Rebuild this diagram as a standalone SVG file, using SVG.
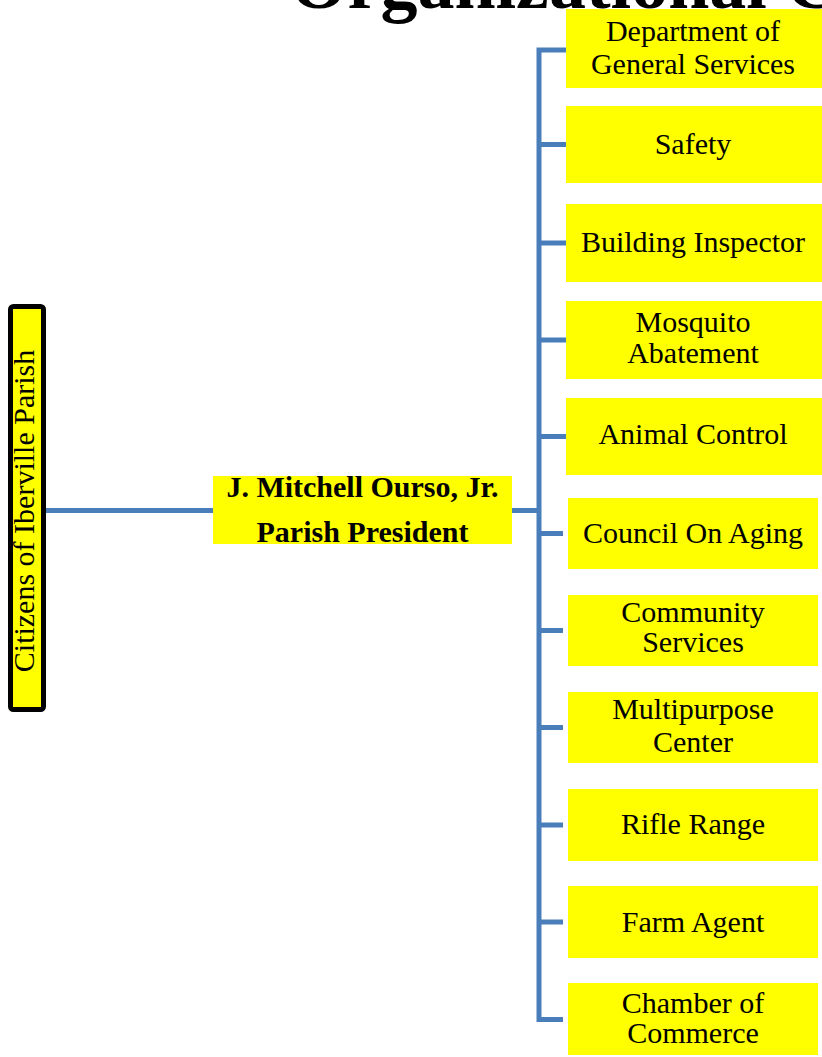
<svg xmlns="http://www.w3.org/2000/svg" width="822" height="1057" viewBox="0 0 822 1057">
<style>
.box{fill:#FFFF00;}
.t{font-family:"Liberation Serif","Times New Roman",serif;font-size:30px;fill:#000;text-anchor:middle;}
.b{font-weight:bold;}
.conn{stroke:#4A7EBB;stroke-width:5;fill:none;}
</style>
<rect width="822" height="1057" fill="#fff"/>
<g id="connectors">
<path class="conn" d="M46,510.5 H213 M512,510.5 H539"/>
<path class="conn" d="M566,50 H539 V1019.5 H563"/>
<path class="conn" d="M539,144.5 H566 M539,243 H566 M539,340 H566 M539,436.5 H566 M539,533.5 H563 M539,630.5 H563 M539,727.5 H563 M539,825 H563 M539,922 H563"/>
</g>
<g id="citizens">
<rect x="10.5" y="306.5" width="33" height="403" rx="3" fill="#FFFF00" stroke="#000" stroke-width="5"/>
<text class="t" transform="translate(34,511) rotate(-90)">Citizens of Iberville Parish</text>
</g>
<g id="president">
<rect class="box" x="213" y="476" width="299" height="68"/>
<text class="t b" x="362.5" y="497">J. Mitchell Ourso, Jr.</text>
<text class="t b" x="362.5" y="542">Parish President</text>
</g>
<g id="general-services">
<rect class="box" x="566" y="9" width="256" height="79"/>
<text class="t" x="693" y="41">Department of</text>
<text class="t" x="693" y="74">General Services</text>
</g>
<g id="safety">
<rect class="box" x="566" y="106" width="256" height="77"/>
<text class="t" x="693" y="154">Safety</text>
</g>
<g id="building-inspector">
<rect class="box" x="566" y="204" width="256" height="78"/>
<text class="t" x="693" y="252">Building Inspector</text>
</g>
<g id="mosquito">
<rect class="box" x="566" y="301" width="256" height="78"/>
<text class="t" x="693" y="332">Mosquito</text>
<text class="t" x="693" y="363">Abatement</text>
</g>
<g id="animal-control">
<rect class="box" x="566" y="398" width="256" height="77"/>
<text class="t" x="693" y="444">Animal Control</text>
</g>
<g id="council-on-aging">
<rect class="box" x="568" y="498" width="250" height="71"/>
<text class="t" x="693" y="543">Council On Aging</text>
</g>
<g id="community-services">
<rect class="box" x="568" y="595" width="250" height="71"/>
<text class="t" x="693" y="622">Community</text>
<text class="t" x="693" y="652">Services</text>
</g>
<g id="multipurpose-center">
<rect class="box" x="568" y="692" width="250" height="71"/>
<text class="t" x="693" y="719">Multipurpose</text>
<text class="t" x="693" y="752">Center</text>
</g>
<g id="rifle-range">
<rect class="box" x="568" y="789" width="250" height="72"/>
<text class="t" x="693" y="834">Rifle Range</text>
</g>
<g id="farm-agent">
<rect class="box" x="568" y="886" width="250" height="72"/>
<text class="t" x="693" y="932">Farm Agent</text>
</g>
<g id="chamber-of-commerce">
<rect class="box" x="568" y="983" width="250" height="72"/>
<text class="t" x="693" y="1013">Chamber of</text>
<text class="t" x="693" y="1043">Commerce</text>
</g>
<g id="title">
<text x="290" y="8" style="font-family:'Liberation Serif','Times New Roman',serif;font-size:74px;font-weight:bold;fill:#000;">Organizational C</text>
</g>
</svg>
